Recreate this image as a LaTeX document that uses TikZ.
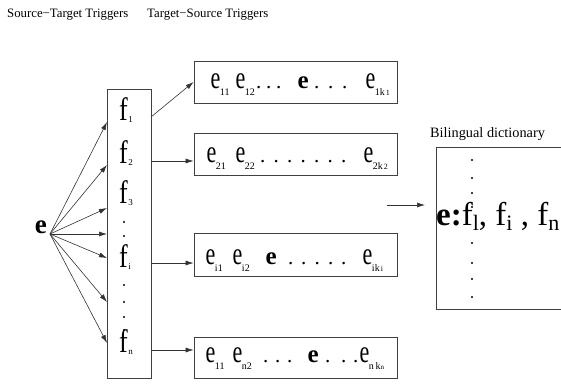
\documentclass[tikz,border=0pt]{standalone}
\usepackage{fontspec}
\setmainfont{Liberation Serif}
\usetikzlibrary{arrows.meta}
\newcommand\fsz[1]{\fontsize{#1}{#1}\selectfont}
\newcommand\Ee[1]{\scalebox{1.05}[1.5]{e}\kern-0.5bp\raisebox{-7bp}{\fsz{10bp}#1}}
\newcommand\Eb{{\fsz{25bp}\bfseries e}}
\newcommand\Ff[1]{\scalebox{1}[1.25]{f}\kern0.5bp\raisebox{-2bp}{\fsz{9bp}#1}}
\newcommand\At[2]{\makebox[0pt][l]{\hspace*{#1}#2}}
\begin{document}
\begin{tikzpicture}[x=1bp,y=-1bp,
  box/.style={draw=black!75, line width=0.9bp, inner sep=0},
  arr/.style={draw=black!80, line width=0.6bp, -{Latex[length=8bp,width=5bp]}},
  txt/.style={anchor=base west, inner sep=0},
  dotc/.style={circle, fill=black, inner sep=0, minimum size=2.2bp}]
\useasboundingbox (0,0) rectangle (561,383);
% titles
\node[txt] (t1) at (7,17) {\fsz{12.8bp}Source−Target Triggers};
\node[txt] (t2) at (147,17) {\fsz{12.8bp}Target−Source Triggers};
% e source
\node[anchor=base east, inner sep=0] (e) at (47,233) {\fsz{27bp}\bfseries e};
\coordinate (eo) at (50,234);
% f column
\node[box, minimum width=44bp, minimum height=289bp] (fbox) at (129,233.5) {};
\node[txt] (f1) at (119,120) {\fsz{26bp}\Ff{1}};
\node[txt] (f2) at (119,163) {\fsz{26bp}\Ff{2}};
\node[txt] (f3) at (119,203) {\fsz{26bp}\Ff{3}};
\node[txt] (fi) at (119,267) {\fsz{26bp}\Ff{i}};
\node[txt] (fn) at (119,352) {\fsz{26bp}\Ff{n}};
\foreach \y [count=\k] in {222,236,285,302,317,330}
  \node[dotc] (fd\k) at (124,\y) {};
% arrows e -> f
\foreach \y [count=\k] in {122,165,208,234,258,302,343} {
  \coordinate (l\k) at (107,\y);
  \draw[arr] (eo) -- (l\k);
}
% target boxes
\node[box, minimum width=203bp, minimum height=42bp] (b1) at (295.5,82) {};
\node[box, minimum width=203bp, minimum height=42bp] (b2) at (295.5,154.5) {};
\node[box, minimum width=203bp, minimum height=43bp] (b3) at (295.5,255) {};
\node[box, minimum width=203bp, minimum height=41bp] (b4) at (295.5,357.5) {};
\node[txt] (r1) at (210,88) {\fsz{21bp}\At{0bp}{\Ee{11}}\At{25bp}{\Ee{12}}\At{45.4bp}{.}\At{55.4bp}{.}\At{65.4bp}{.}\At{87bp}{\Eb}\At{103.4bp}{.}\At{117.4bp}{.}\At{131.4bp}{.}\At{155bp}{\Ee{1k\kern1bp{\fsz{8bp}1}}}};
\node[txt] (r2) at (206,162) {\fsz{21bp}\At{0bp}{\Ee{21}}\At{29bp}{\Ee{22}}\At{53.4bp}{.}\At{66.9bp}{.}\At{80.4bp}{.}\At{93.9bp}{.}\At{107.4bp}{.}\At{120.9bp}{.}\At{134.4bp}{.}\At{157bp}{\Ee{2k\kern1bp{\fsz{8bp}2}}}};
\node[txt] (r3) at (205,264) {\fsz{21bp}\At{0bp}{\Ee{i1}}\At{27bp}{\Ee{i2}}\At{60bp}{\Eb}\At{82.4bp}{.}\At{95.4bp}{.}\At{108.9bp}{.}\At{122.4bp}{.}\At{135.4bp}{.}\At{157bp}{\Ee{ik\kern1bp{\fsz{8bp}i}}}};
\node[txt] (r4) at (205,362) {\fsz{21bp}\At{0bp}{\Ee{11}}\At{27bp}{\Ee{n2}}\At{57.4bp}{.}\At{69.4bp}{.}\At{81.4bp}{.}\At{102bp}{\Eb}\At{119.4bp}{.}\At{135.4bp}{.}\At{147.4bp}{.}\At{154bp}{\Ee{n\,k{\fsz{7bp}n}}}};
% arrows f -> boxes
\coordinate (s1) at (151,117);
\coordinate (s2) at (151,161);
\coordinate (s3) at (151,263);
\coordinate (s4) at (151,350);
\draw[arr] (s1) -- (b1.west);
\draw[arr] (s2) -- (b2.west |- s2);
\draw[arr] (s3) -- (b3.west |- s3);
\draw[arr] (s4) -- (b4.west |- s4);
% dictionary
\coordinate (da) at (387,205);
\coordinate (db) at (425,205);
\draw[arr] (da) -- (db);
\node[txt] (dl) at (430,137) {\fsz{14.3bp}Bilingual dictionary};
\node[box, minimum width=200bp, minimum height=162bp, anchor=north west] (dict) at (436,147) {};
\foreach \y [count=\k] in {160,178,193,207,243,263,279,297}
  \node[dotc] (dd\k) at (472,\y) {};
\node[txt] (dt) at (436,225) {\fsz{33bp}{\bfseries e:}f\raisebox{-5bp}{\fsz{22bp}l}, f\raisebox{-5bp}{\fsz{22bp}i} , f\raisebox{-5bp}{\fsz{22bp}n}};
\end{tikzpicture}
\end{document}
